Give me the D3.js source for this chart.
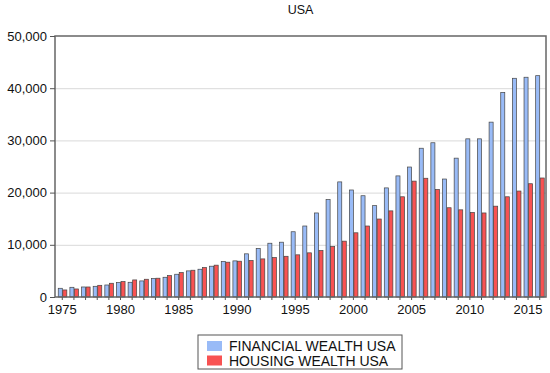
<!DOCTYPE html>
<html lang="en">
<head>
<meta charset="UTF-8">
<title>USA</title>
<script src="https://d3js.org/d3.v7.min.js"></script>
<style>
    body { margin: 0; background: #fff; font-family: Arial, 'Liberation Sans', sans-serif; }
    svg { display: block; }
</style>
</head>
<body>
<svg id="chart"></svg>
<script>
    // Years and series values
    const years = d3.range(1975, 2017);
    const financial = [1670, 1860, 1920, 2050, 2300, 2760, 2820, 3080, 3530, 3780,
        4360, 5000, 5320, 5900, 6800, 6920, 8270, 9300, 10300, 10500,
        12500, 13600, 16100, 18650, 22050, 20500, 19400, 17500, 20900, 23200,
        24900, 28500, 29550, 22600, 26600, 30300, 30300, 33500, 39200, 41900,
        42100, 42400];
    const housing = [1350, 1540, 1920, 2240, 2630, 2950, 3270, 3400, 3600, 4100,
        4680, 5130, 5640, 6100, 6670, 6860, 6990, 7300, 7560, 7800,
        8080, 8460, 8900, 9680, 10700, 12300, 13600, 14940, 16500, 19200,
        22200, 22750, 20600, 17100, 16700, 16200, 16100, 17400, 19200, 20300,
        21700, 22800];
    const seriesNames = ["FINANCIAL WEALTH USA", "HOUSING WEALTH USA"];
    const yTicks = [0, 10000, 20000, 30000, 40000, 50000];
    const xTickYears = [1975, 1980, 1985, 1990, 1995, 2000, 2005, 2010, 2015];

    const width = 550, height = 373;
    const margin = { top: 36, right: 4, bottom: 76, left: 55 };
    const colors = ["#99bbf7", "#f85252"];

    const svg = d3.select("#chart").attr("width", width).attr("height", height);

    const x = d3.scaleBand()
        .domain(years)
        .range([margin.left + 1, width - margin.right])
        .paddingInner(0.22)
        .paddingOuter(0.15);
    const xSub = d3.scaleBand()
        .domain([0, 1])
        .range([0, x.bandwidth()]);
    const y = d3.scaleLinear()
        .domain([0, 50000])
        .range([height - margin.bottom, margin.top]);

    // Title
    svg.append("text")
        .attr("x", (margin.left + width - margin.right) / 2)
        .attr("y", 14)
        .attr("text-anchor", "middle")
        .attr("font-size", 12.5)
        .attr("fill", "#111")
        .text("USA");

    // Gridlines
    svg.append("g")
        .selectAll("line")
        .data(yTicks.slice(1, -1))
        .enter().append("line")
        .attr("x1", margin.left)
        .attr("x2", width - margin.right)
        .attr("y1", d => y(d) + 0.5)
        .attr("y2", d => y(d) + 0.5)
        .attr("stroke", "#d9d9d9")
        .attr("stroke-width", 1);

    // Bars
    const data = years.map((yr, i) => ({ year: yr, values: [financial[i], housing[i]] }));
    const groups = svg.append("g")
        .selectAll("g")
        .data(data)
        .enter().append("g")
        .attr("transform", d => `translate(${x(d.year)},0)`);

    groups.selectAll("rect")
        .data(d => d.values.map((v, k) => ({ k, v })))
        .enter().append("rect")
        .attr("x", d => xSub(d.k) + 0.5)
        .attr("width", xSub.bandwidth() - 0.5)
        .attr("y", d => y(d.v))
        .attr("height", d => y(0) - y(d.v))
        .attr("fill", d => colors[d.k])
        .attr("stroke", "#444")
        .attr("stroke-width", 0.7);

    // Frame
    svg.append("rect")
        .attr("x", margin.left)
        .attr("y", margin.top)
        .attr("width", width - margin.right - margin.left)
        .attr("height", height - margin.bottom - margin.top)
        .attr("fill", "none")
        .attr("stroke", "#666")
        .attr("stroke-width", 1.5);

    // Y axis
    const yAxis = svg.append("g")
        .attr("transform", `translate(${margin.left},0)`)
        .call(d3.axisLeft(y).tickValues(yTicks).tickFormat(d3.format(",")).tickSize(5).tickPadding(3));
    yAxis.select(".domain").remove();
    yAxis.selectAll("text").attr("font-size", 13).attr("font-family", "Arial, 'Liberation Sans', sans-serif").attr("fill", "#111");
    yAxis.selectAll("line").attr("stroke", "#555");

    // X axis: small tick at every year, labels every 5 years
    const xAxis = svg.append("g")
        .attr("transform", `translate(0,${height - margin.bottom})`)
        .call(d3.axisBottom(x).tickValues(years).tickSize(3).tickPadding(5)
            .tickFormat(d => xTickYears.includes(d) ? d : ""));
    xAxis.select(".domain").remove();
    xAxis.selectAll("text").attr("font-size", 13).attr("font-family", "Arial, 'Liberation Sans', sans-serif").attr("fill", "#111");
    xAxis.selectAll("line").attr("stroke", "#555");

    // Legend
    const legend = svg.append("g").attr("transform", "translate(198,335)");
    legend.append("rect")
        .attr("width", 204).attr("height", 34)
        .attr("fill", "#fff").attr("stroke", "#555").attr("stroke-width", 1);
    const items = legend.selectAll(".item")
        .data(seriesNames)
        .enter().append("g")
        .attr("transform", (d, i) => `translate(9,${4 + i * 14.5})`);
    items.append("rect")
        .attr("width", 15).attr("height", 10)
        .attr("y", 2)
        .attr("fill", (d, i) => colors[i]);
    items.append("text")
        .attr("x", 22).attr("y", 12)
        .attr("font-size", 14)
        .attr("fill", "#111")
        .text(d => d);
</script>
</body>
</html>
